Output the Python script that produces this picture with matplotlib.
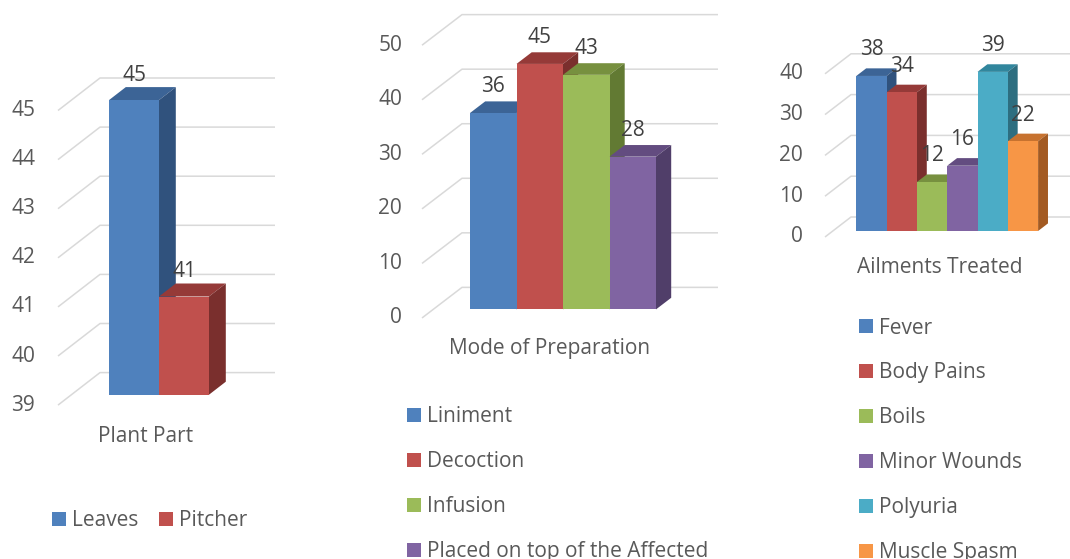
import matplotlib
matplotlib.use('Agg')
import matplotlib.pyplot as plt
from matplotlib.patches import Polygon

plt.rcParams['font.family'] = ['Open Sans', 'DejaVu Sans']
plt.rcParams['font.size'] = 15

# Plant part
part_labels = ['Leaves', 'Pitcher']
part_values = [45, 41]
part_ticks = [39, 40, 41, 42, 43, 44, 45]

# Mode of preparation
prep_labels = ['Liniment', 'Decoction', 'Infusion', 'Placed on top of the Affected']
prep_values = [36, 45, 43, 28]
prep_ticks = [0, 10, 20, 30, 40, 50]

# Ailments treated
ail_labels = ['Fever', 'Body Pains', 'Boils', 'Minor Wounds', 'Polyuria', 'Muscle Spasm']
ail_values = [38, 34, 12, 16, 39, 22]
ail_ticks = [0, 10, 20, 30, 40]

FRONT = ['#4F81BD', '#C0504D', '#9BBB59', '#8064A2', '#4BACC6', '#F79646']
TOP = ['#3C6496', '#953A38', '#77903F', '#634C80', '#31869D', '#C7722F']
SIDE = ['#30527D', '#7A2F2D', '#627A33', '#503E69', '#2D6E80', '#A35A22']
GRID = '#D9D9D9'
TXT = '#595959'
LAB = '#404040'

W, H = 1070, 559
fig = plt.figure(figsize=(W / 100, H / 100), dpi=100)


def panel(values, labels, ticks, title, x0, bw, ybase, ppu, depth, f0, bf,
          xl_px, xr_px, gap, lab_off, leg_xy, leg_cols):
    # axes spans the whole figure, limits chosen so bars land in the right spot
    vmin = ticks[0]
    ax = fig.add_axes([0, 0, 1, 1])
    ax.set_xlim(-x0 / bw, (W - x0) / bw)
    ax.set_ylim(vmin - (H - ybase) / ppu, vmin + ybase / ppu)
    ax.axis('off')
    ax.patch.set_alpha(0)

    ddx = depth[0] / bw
    ddy = depth[1] / ppu
    xl = (xl_px - x0) / bw
    xr = (xr_px - x0) / bw

    for t in ticks:
        yf = t - f0 * ddy
        yb = t + (1 - f0) * ddy
        ax.plot([xl, xl + ddx, xr], [yf, yb, yb], color=GRID, lw=1.1, zorder=1,
                solid_capstyle='butt')
        ax.text(xl - gap / bw, yf, str(t), ha='right', va='center', color=TXT)

    n = len(values)
    bars = ax.bar(range(n), [v - vmin for v in values], bottom=vmin, width=1,
                  align='edge', color=FRONT[:n], label=labels)
    bdx = bf * ddx
    bdy = bf * ddy
    for i, (b, v) in enumerate(zip(bars, values)):
        b.set_zorder(11 + 2 * i)
        top = [(i, v), (i + 1, v), (i + 1 + bdx, v + bdy), (i + bdx, v + bdy)]
        side = [(i + 1, vmin), (i + 1 + bdx, vmin + bdy), (i + 1 + bdx, v + bdy), (i + 1, v)]
        ax.add_patch(Polygon(top, closed=True, facecolor=TOP[i], edgecolor='none', zorder=10 + 2 * i))
        ax.add_patch(Polygon(side, closed=True, facecolor=SIDE[i], edgecolor='none', zorder=10 + 2 * i))
        ax.text(i + 0.5, v + bdy + lab_off / ppu, str(v), ha='center', va='center',
                color=LAB, zorder=30)

    ax.text((xl + xr - ddx) / 2, vmin - f0 * ddy - 31 / ppu, title,
            ha='center', va='center', color=TXT)

    fig.legend(handles=list(bars), labels=labels, loc='upper left',
               bbox_to_anchor=(leg_xy[0] / W, 1 - leg_xy[1] / H), ncol=leg_cols,
               frameon=False, borderpad=0, borderaxespad=0, handlelength=0.65,
               handleheight=0.65, handletextpad=0.3, columnspacing=1.0,
               labelspacing=1.15, labelcolor=TXT)
    return ax


panel(part_values, part_labels, part_ticks, 'Plant Part',
      x0=109, bw=50, ybase=394.7, ppu=49.1, depth=(42, 32.5), f0=0.32, bf=0.4,
      xl_px=58, xr_px=275, gap=23, lab_off=12, leg_xy=(52, 510), leg_cols=2)

panel(prep_values, prep_labels, prep_ticks, 'Mode of Preparation',
      x0=470, bw=46.5, ybase=309.4, ppu=5.455, depth=(40, 30.6), f0=0.28, bf=0.38,
      xl_px=422, xr_px=718, gap=20, lab_off=15, leg_xy=(407, 406.5), leg_cols=1)

panel(ail_values, ail_labels, ail_ticks, 'Ailments Treated',
      x0=856.3, bw=30.3, ybase=231, ppu=4.08, depth=(26, 20), f0=0.3, bf=0.38,
      xl_px=825, xr_px=1080, gap=22, lab_off=18.5, leg_xy=(859, 317.5), leg_cols=1)

fig.savefig('out.png', dpi=100)
